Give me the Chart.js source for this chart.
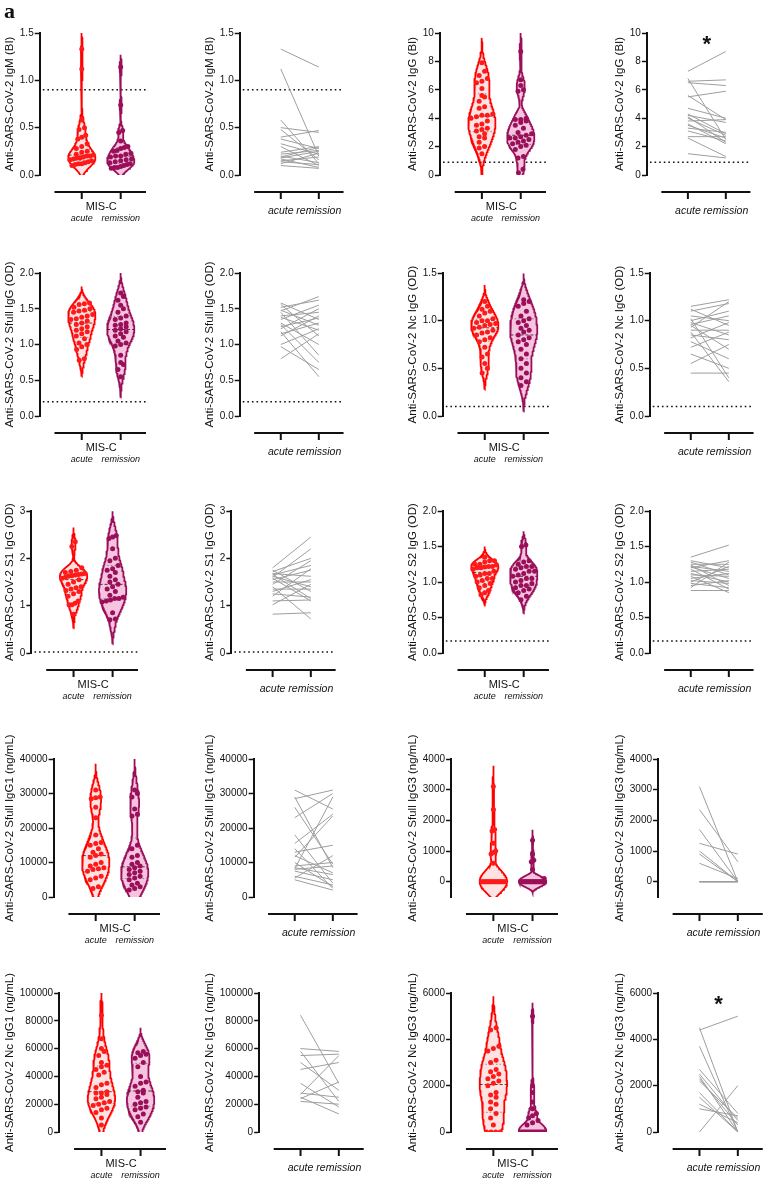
<!DOCTYPE html>
<html>
<head>
<meta charset="utf-8">
<script src="https://cdn.jsdelivr.net/npm/chart.js@4.4.1/dist/chart.umd.min.js"></script>
<style>
  html, body { margin: 0; padding: 0; background: #fff; }
  #fig { position: relative; width: 765px; height: 1181px; overflow: hidden; background: #fff; }
  #fig canvas { position: absolute; }
  #tag { position: absolute; left: 4px; top: -2px; z-index: 5; font: bold 22px "Liberation Serif", "DejaVu Serif", serif; color: #111; }
</style>
</head>
<body>
<div id="fig"><div id="tag">a</div></div>
<script>
// ── Data ──
const categories = ['acute', 'remission'];
const groupLabel = 'MIS-C';

// IgM (BI)
const igmTicks = [0, 0.5, 1.0, 1.5];
const igmAcute = [1.33, 1.12, 0.58, 0.50, 0.48, 0.40, 0.38, 0.33, 0.30, 0.24, 0.22, 0.20, 0.19, 0.18, 0.17, 0.15, 0.14, 0.12, 0.10];
const igmRemission = [1.14, 0.20, 0.12, 0.45, 0.16, 0.47, 0.28, 0.22, 0.10, 0.30, 0.26, 0.13, 0.29, 0.25, 0.08, 0.19, 0.11, 0.23, 0.07];
const igmAcuteOnly = [0.42, 0.28, 0.25, 0.21, 0.20, 0.18, 0.16, 0.13, 0.12, 0.11];
const igmRemissionOnly = [0.74, 0.36, 0.20, 0.17, 0.15, 0.14, 0.09, 0.08];

// IgG (BI)
const iggTicks = [0, 2, 4, 6, 8, 10];
const iggAcute = [7.3, 6.8, 6.6, 6.5, 5.6, 5.5, 4.7, 4.3, 4.2, 4.1, 4.0, 3.8, 3.6, 3.5, 3.3, 3.1, 2.7, 2.6, 1.5];
const iggRemission = [8.7, 2.5, 6.7, 6.3, 3.9, 5.9, 4.0, 2.9, 3.7, 2.3, 2.8, 3.9, 2.2, 2.6, 3.0, 2.4, 2.7, 1.3, 1.2];
const iggAcuteOnly = [7.9, 7.0, 6.1, 5.2, 4.8, 4.2, 3.2, 2.9, 2.3, 2.0, 1.9];
const iggRemissionOnly = [3.3, 2.6, 6.0, 3.8, 3.5, 2.1, 2.0, 1.8, 0.4, 0.15];

// Sfull IgG (OD)
const sfTicks = [0, 0.5, 1.0, 1.5, 2.0];
const sfAcute = [1.58, 1.56, 1.52, 1.48, 1.47, 1.45, 1.40, 1.38, 1.35, 1.30, 1.28, 1.25, 1.22, 1.18, 1.15, 1.12, 1.00, 0.97, 0.80];
const sfRemission = [1.35, 1.12, 1.62, 1.27, 1.67, 0.85, 1.45, 1.20, 1.55, 1.00, 0.75, 1.37, 1.50, 0.55, 1.30, 1.40, 1.22, 0.65, 1.15];
const sfAcuteOnly = [1.57, 1.50, 1.42, 1.36, 1.33, 1.20, 1.08, 1.02, 0.93, 0.78];
const sfRemissionOnly = [1.72, 1.28, 1.25, 1.18, 1.10, 1.05, 1.02, 0.98, 0.72];

// Nc IgG (OD)
const ncTicks = [0, 0.5, 1.0, 1.5];
const ncAcute = [1.15, 1.12, 1.10, 1.05, 1.02, 1.00, 0.98, 0.96, 0.95, 0.93, 0.90, 0.88, 0.85, 0.82, 0.78, 0.72, 0.65, 0.55, 0.45];
const ncRemission = [1.22, 0.95, 1.18, 1.00, 0.40, 1.10, 0.85, 1.05, 0.70, 1.20, 0.90, 0.36, 0.80, 0.98, 0.60, 0.88, 0.50, 0.75, 0.45];
const ncAcuteOnly = [1.20, 1.08, 1.00, 0.97, 0.92, 0.87, 0.80, 0.62, 0.50];
const ncRemissionOnly = [1.15, 1.02, 0.92, 0.82, 0.78, 0.65, 0.55, 0.32];

// S1 IgG (OD)
const s1Ticks = [0, 1, 2, 3];
const s1Acute = [1.80, 1.75, 1.72, 1.68, 1.66, 1.65, 1.62, 1.60, 1.58, 1.55, 1.50, 1.45, 1.40, 1.35, 1.30, 1.25, 1.20, 1.10, 1.02, 0.82];
const s1Remission = [2.45, 1.30, 2.00, 1.62, 1.15, 1.85, 1.40, 2.20, 1.10, 1.75, 1.50, 1.95, 0.72, 1.35, 1.55, 1.18, 1.78, 1.12, 1.45, 0.85];
const s1AcuteOnly = [2.35, 2.25, 1.70, 1.67, 1.63, 1.38, 1.32, 1.05, 1.02];
const s1RemissionOnly = [2.48, 2.42, 1.70, 1.22, 1.15, 1.08, 0.70];

// S2 IgG (OD)
const s2Ticks = [0, 0.5, 1.0, 1.5, 2.0];
const s2Acute = [1.35, 1.30, 1.28, 1.25, 1.24, 1.22, 1.21, 1.20, 1.18, 1.15, 1.12, 1.10, 1.08, 1.05, 1.02, 1.00, 0.98, 0.95, 0.92, 0.88];
const s2Remission = [1.52, 1.20, 1.10, 1.25, 0.95, 1.15, 1.05, 1.30, 0.90, 1.18, 1.00, 1.08, 0.85, 1.12, 0.98, 1.22, 0.92, 1.02, 1.28, 0.88];
const s2AcuteOnly = [1.30, 1.25, 1.22, 1.20, 1.12, 1.05, 0.85, 0.82];
const s2RemissionOnly = [1.50, 1.22, 1.15, 1.05, 0.95, 0.80, 0.75];

// Sfull IgG1 (ng/mL)
const sg1Ticks = [0, 10000, 20000, 30000, 40000];
const sg1Acute = [31000, 29000, 28500, 26000, 23000, 18000, 15500, 14000, 13000, 12000, 11500, 10000, 9000, 8500, 8200, 8000, 7500, 6000, 5500, 5000];
const sg1Remission = [25500, 8500, 31000, 9500, 30000, 4000, 24000, 2500, 15000, 7000, 23500, 3000, 10000, 6500, 29000, 9000, 5000, 3500, 12000, 2000];
const sg1AcuteOnly = [28800, 15800, 15000, 12500, 9500, 3000, 2500];
const sg1RemissionOnly = [14000, 11500, 8000, 7500, 6000, 5500];

// Sfull IgG3 (ng/mL)
const sg3Ticks = [0, 1000, 2000, 3000, 4000];
const sg3Acute = [3100, 2350, 1700, 1250, 1000, 900, 600, 0, 0, 0, 0, 0, 0, 0];
const sg3Remission = [0, 650, 0, 900, 0, 0, 100, 0, 0, 0, 0, 0, 0, 0];
const sg3AcuteOnly = [1650, 950, 0, 0, 0, 0, 0, 0, 0, 0, 0, 0, 0, 0, 0, 0];
const sg3RemissionOnly = [1350, 700, 400, 0, 0, 0, 0, 0, 0, 0, 0, 0, 0, 0];

// Nc IgG1 (ng/mL)
const ng1Ticks = [0, 20000, 40000, 60000, 80000, 100000];
const ng1Acute = [84000, 60000, 58000, 55000, 50000, 45000, 35000, 28000, 27000, 25000, 24000, 22000];
const ng1Remission = [35000, 58000, 22000, 56000, 30000, 50000, 18000, 25000, 55000, 13000, 36000, 20000];
const ng1AcuteOnly = [67000, 48000, 47000, 43000, 41000, 34000, 32000, 29000, 28000, 21000, 20000, 19000, 17000, 16000, 14000, 10000, 5000];
const ng1RemissionOnly = [57000, 53000, 47000, 40000, 33000, 29000, 28000, 21000, 17000, 16000, 11000, 7000];

// Nc IgG3 (ng/mL)
const ng3Ticks = [0, 2000, 4000, 6000];
const ng3Acute = [4500, 4400, 3700, 2700, 2500, 2400, 2300, 2200, 1700, 1500, 1200, 1000, 0];
const ng3Remission = [0, 5000, 0, 800, 500, 0, 300, 600, 0, 0, 400, 700, 2000];
const ng3AcuteOnly = [3600, 3500, 3100, 3000, 2600, 2100, 2000, 1600, 1300, 800, 600, 300, 0, 0, 0];
const ng3RemissionOnly = [1700, 1300, 1000, 0, 0, 0, 0, 0, 0, 0, 0, 0];

const markers = [
  { title: 'Anti-SARS-CoV-2 IgM (BI)', ticks: igmTicks, dec: 1, cutoff: 0.9, acute: igmAcute, remission: igmRemission, acuteOnly: igmAcuteOnly, remissionOnly: igmRemissionOnly },
  { title: 'Anti-SARS-CoV-2 IgG (BI)', ticks: iggTicks, dec: 0, cutoff: 0.9, acute: iggAcute, remission: iggRemission, acuteOnly: iggAcuteOnly, remissionOnly: iggRemissionOnly, star: true },
  { title: 'Anti-SARS-CoV-2 Sfull IgG (OD)', ticks: sfTicks, dec: 1, cutoff: 0.2, acute: sfAcute, remission: sfRemission, acuteOnly: sfAcuteOnly, remissionOnly: sfRemissionOnly },
  { title: 'Anti-SARS-CoV-2 Nc IgG (OD)', ticks: ncTicks, dec: 1, cutoff: 0.1, acute: ncAcute, remission: ncRemission, acuteOnly: ncAcuteOnly, remissionOnly: ncRemissionOnly },
  { title: 'Anti-SARS-CoV-2 S1 IgG (OD)', ticks: s1Ticks, dec: 0, cutoff: 0.02, acute: s1Acute, remission: s1Remission, acuteOnly: s1AcuteOnly, remissionOnly: s1RemissionOnly },
  { title: 'Anti-SARS-CoV-2 S2 IgG (OD)', ticks: s2Ticks, dec: 1, cutoff: 0.17, acute: s2Acute, remission: s2Remission, acuteOnly: s2AcuteOnly, remissionOnly: s2RemissionOnly },
  { title: 'Anti-SARS-CoV-2 Sfull IgG1 (ng/mL)', ticks: sg1Ticks, dec: 0, acute: sg1Acute, remission: sg1Remission, acuteOnly: sg1AcuteOnly, remissionOnly: sg1RemissionOnly },
  { title: 'Anti-SARS-CoV-2 Sfull IgG3 (ng/mL)', ticks: sg3Ticks, min: -500, dec: 0, acute: sg3Acute, remission: sg3Remission, acuteOnly: sg3AcuteOnly, remissionOnly: sg3RemissionOnly },
  { title: 'Anti-SARS-CoV-2 Nc IgG1 (ng/mL)', ticks: ng1Ticks, dec: 0, acute: ng1Acute, remission: ng1Remission, acuteOnly: ng1AcuteOnly, remissionOnly: ng1RemissionOnly },
  { title: 'Anti-SARS-CoV-2 Nc IgG3 (ng/mL)', ticks: ng3Ticks, dec: 0, acute: ng3Acute, remission: ng3Remission, acuteOnly: ng3AcuteOnly, remissionOnly: ng3RemissionOnly, star: true },
];

// ── Layout ──
const colLeft = [0, 200, 403, 610];
const rowTop = [33, 273, 511, 759, 993];
const rowBottom = [175, 416, 653, 897, 1132];
const PLOT_W = 108;
const X_MIN = -0.08, X_MAX = 2.65;
const FONT = 'Arial, "Liberation Sans", Helvetica, sans-serif';
const TICK_SIZE = 10, TITLE_SIZE = 11.5;

const ACUTE = { line: '#ff0000', fill: 'rgba(255,0,0,0.11)', dot: '#ff1a1a', median: 'rgba(90,30,30,0.9)' };
const REMIS = { line: '#9a0f5a', fill: '#f6c4de', dot: '#9a0f5a', median: 'rgba(70,30,50,0.9)' };

Chart.defaults.font.family = FONT;
Chart.defaults.color = '#111';

// Prism-style detached x axis + significance star
const prismAxes = {
  id: 'prismAxes',
  afterDraw(chart, args, opts) {
    const { ctx, chartArea, scales: { x } } = chart;
    const y0 = chartArea.bottom + 17;
    ctx.save();
    ctx.strokeStyle = '#111';
    ctx.lineWidth = 2;
    ctx.beginPath();
    ctx.moveTo(x.getPixelForValue(0.3), y0);
    ctx.lineTo(chartArea.right, y0);
    [1, 2].forEach(v => {
      const px = x.getPixelForValue(v);
      ctx.moveTo(px, y0);
      ctx.lineTo(px, y0 + 7);
    });
    ctx.stroke();
    if (opts.star) {
      ctx.fillStyle = '#111';
      ctx.font = 'bold 22px ' + FONT;
      ctx.textAlign = 'center';
      ctx.textBaseline = 'top';
      ctx.fillText('*', x.getPixelForValue(1.5), chartArea.top + 1);
    }
    ctx.restore();
  }
};
Chart.register(prismAxes);

const measureCtx = document.createElement('canvas').getContext('2d');
function yAxisWidth(labels) {
  measureCtx.font = TICK_SIZE + 'px ' + FONT;
  const lw = Math.max(...labels.map(t => measureCtx.measureText(t).width));
  return 5 + (TITLE_SIZE * 1.2 + 3) + lw + 1;
}

function quantile(s, p) {
  const pos = p * (s.length + 1) - 1;
  if (pos <= 0) return s[0];
  if (pos >= s.length - 1) return s[s.length - 1];
  const lo = Math.floor(pos), f = pos - lo;
  return s[lo] + f * (s[lo + 1] - s[lo]);
}

function bandwidth(s) {
  const n = s.length;
  const mean = s.reduce((a, b) => a + b, 0) / n;
  const sd = Math.sqrt(s.reduce((a, b) => a + (b - mean) ** 2, 0) / (n - 1));
  const iqr = quantile(s, 0.75) - quantile(s, 0.25);
  const spread = iqr > 0 ? Math.min(sd, iqr / 1.34) : sd;
  return 0.9 * spread * Math.pow(n, -0.2);
}

// violin outline, quartile lines and dots for one group
function violinSets(vals, center, col, yRange) {
  const s = [...vals].sort((a, b) => a - b);
  const r = 2.2 * bandwidth(s);
  const dens = y => s.reduce((acc, v) => {
    const u = (y - v) / r;
    return Math.abs(u) < 1 ? acc + (1 - u * u) ** 2 : acc;
  }, 0);
  const lo = s[0] - r, hi = s[s.length - 1] + r;
  const N = 160;
  const ys = [];
  for (let i = 0; i <= N; i++) ys.push(lo + (hi - lo) * i / N);
  const ds = ys.map(dens);
  const dmax = Math.max(...ds);
  const W = 0.35;
  const half = y => W * dens(y) / dmax;

  const right = ys.map((y, i) => ({ x: center + W * ds[i] / dmax, y }));
  const left = ys.map((y, i) => ({ x: center - W * ds[i] / dmax, y })).reverse();

  const sets = [];
  sets.push({
    type: 'line', data: right.concat(left), borderColor: col.line, backgroundColor: col.fill,
    borderWidth: 1.8, fill: 'shape', pointRadius: 0, tension: 0, order: 2
  });

  [0.25, 0.5, 0.75].forEach(p => {
    const q = quantile(s, p);
    const w = half(q);
    sets.push({
      type: 'line', data: [{ x: center - w, y: q }, { x: center + w, y: q }],
      borderColor: p === 0.5 ? col.median : 'rgba(120,120,120,0.85)',
      borderDash: p === 0.5 ? [3, 2] : [1.5, 2], borderWidth: 1, pointRadius: 0, order: 1
    });
  });

  // rows of dots, spread sideways inside the violin
  const bin = yRange * 0.035;
  const pts = [];
  let i = 0;
  while (i < s.length) {
    let j = i;
    while (j + 1 < s.length && s[j + 1] - s[i] <= bin) j++;
    const group = s.slice(i, j + 1);
    const n = group.length;
    const gy = group.reduce((a, b) => a + b, 0) / n;
    let step = 0.14;
    const room = half(gy) * 0.85;
    if (n > 1 && step * (n - 1) / 2 > room) step = 2 * room / (n - 1);
    group.forEach((v, k) => pts.push({ x: center + (k - (n - 1) / 2) * step, y: v }));
    i = j + 1;
  }
  sets.push({
    type: 'scatter', data: pts, backgroundColor: col.dot, borderWidth: 0,
    pointRadius: 2.5, order: 0
  });
  return sets;
}

function makePanel(r, c, m, kind) {
  const padTop = 28, xH = 50, padBottom = 2, padLeft = 2, padRight = 3;
  const fmt = v => Number(v).toFixed(m.dec);
  const yW = yAxisWidth(m.ticks.map(fmt));
  const canvas = document.createElement('canvas');
  const w = Math.ceil(padLeft + yW + PLOT_W + padRight);
  const h = padTop + (rowBottom[r] - rowTop[r]) + xH + padBottom;
  canvas.width = w;
  canvas.height = h;
  canvas.style.left = colLeft[c] + 'px';
  canvas.style.top = (rowTop[r] - padTop) + 'px';
  document.getElementById('fig').appendChild(canvas);

  const yMin = m.min != null ? m.min : m.ticks[0];
  const yMax = m.ticks[m.ticks.length - 1];
  const datasets = [];

  if (kind === 'violin') {
    const acuteAll = m.acute.concat(m.acuteOnly);
    const remAll = m.remission.concat(m.remissionOnly);
    datasets.push(...violinSets(acuteAll, 1, ACUTE, yMax - yMin));
    datasets.push(...violinSets(remAll, 2, REMIS, yMax - yMin));
  } else {
    m.acute.forEach((a, k) => {
      datasets.push({
        type: 'line', data: [{ x: 1, y: a }, { x: 2, y: m.remission[k] }],
        borderColor: '#9e9e9e', borderWidth: 1, pointRadius: 0, order: 1
      });
    });
  }
  if (m.cutoff != null) {
    datasets.push({
      type: 'line', data: [{ x: 0, y: m.cutoff }, { x: X_MAX, y: m.cutoff }],
      borderColor: '#111', borderWidth: 1.6, borderDash: [1.6, 3], pointRadius: 0, order: 3
    });
  }

  const tickPos = kind === 'violin' ? [1, 1.5, 2] : [1, 2];
  const tickText = kind === 'violin'
    ? [['', categories[0]], groupLabel, ['', categories[1]]]
    : categories;

  new Chart(canvas, {
    type: 'scatter',
    data: { datasets },
    options: {
      responsive: false,
      animation: false,
      events: [],
      layout: { padding: { top: padTop, left: padLeft, right: padRight, bottom: padBottom } },
      plugins: {
        legend: { display: false },
        tooltip: { enabled: false },
        prismAxes: { star: kind === 'paired' && !!m.star }
      },
      scales: {
        x: {
          type: 'linear', min: X_MIN, max: X_MAX,
          afterBuildTicks: s => { s.ticks = tickPos.map(v => ({ value: v })); },
          afterFit: s => { s.height = xH; },
          grid: { display: true, drawOnChartArea: false, drawTicks: true, tickLength: 22, tickColor: 'rgba(0,0,0,0)' },
          border: { display: false },
          ticks: {
            autoSkip: false, maxRotation: 0, minRotation: 0,
            padding: kind === 'violin' ? 3 : 8,
            color: '#111',
            font: ctx => kind === 'violin'
              ? (ctx.index === 1 ? { size: 11 } : { size: 9, style: 'italic', lineHeight: 1.4 })
              : { size: 10.5, style: 'italic' },
            callback: (v, i) => tickText[i]
          }
        },
        y: {
          type: 'linear', min: yMin, max: yMax,
          afterBuildTicks: s => { s.ticks = m.ticks.map(v => ({ value: v })); },
          title: { display: true, text: m.title, font: { size: TITLE_SIZE }, padding: { top: 1, bottom: 2 }, color: '#111' },
          grid: { display: true, drawOnChartArea: false, drawTicks: true, tickLength: 5, tickColor: '#111', tickWidth: 1.5 },
          border: { display: true, color: '#111', width: 2 },
          ticks: { padding: 1, color: '#111', font: { size: TICK_SIZE }, callback: v => fmt(v) }
        }
      }
    }
  });
}

markers.forEach((m, idx) => {
  const r = Math.floor(idx / 2);
  const c = (idx % 2) * 2;
  makePanel(r, c, m, 'violin');
  makePanel(r, c + 1, m, 'paired');
});
</script>
</body>
</html>
